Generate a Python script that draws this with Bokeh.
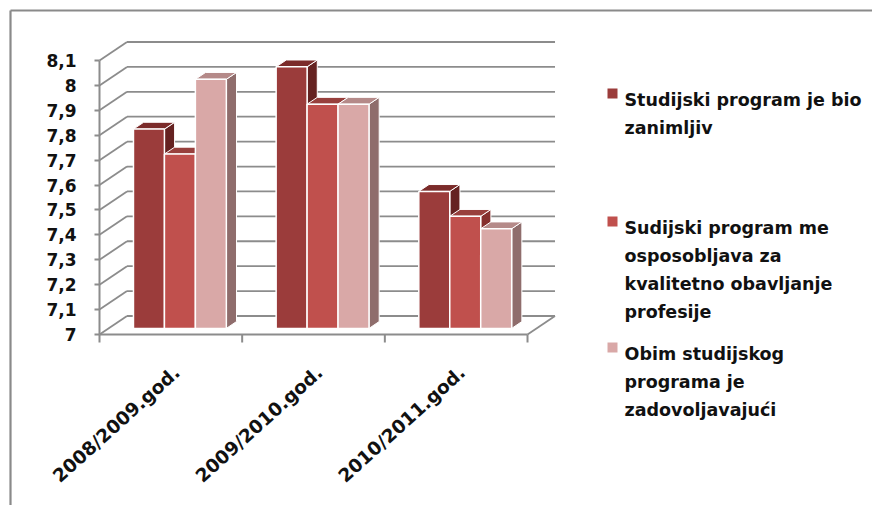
from bokeh.plotting import figure
from bokeh.models import FixedTicker, Range1d, Label
from bokeh.embed import file_html
from bokeh.resources import INLINE

# ---------------- data ----------------
categories = ["2008/2009.god.", "2009/2010.god.", "2010/2011.god."]
series_names = [
    "Studijski program je bio\nzanimljiv",
    "Sudijski program me\nosposobljava za\nkvalitetno obavljanje\nprofesije",
    "Obim studijskog\nprograma je\nzadovoljavajući",
]
s_zanimljiv = [7.8, 8.05, 7.55]
s_osposobljava = [7.7, 7.9, 7.45]
s_obim = [8.0, 7.9, 7.4]
series_values = [s_zanimljiv, s_osposobljava, s_obim]
y_ticks = [7.0, 7.1, 7.2, 7.3, 7.4, 7.5, 7.6, 7.7, 7.8, 7.9, 8.0, 8.1]
y_tick_labels = ["7", "7,1", "7,2", "7,3", "7,4", "7,5", "7,6", "7,7", "7,8", "7,9", "8", "8,1"]

# ---------------- styles / layout ----------------
front_col = ["#9B3C3B", "#C0504D", "#D9A8A7"]
top_col = ["#7B2B2A", "#98403D", "#B58A89"]
side_col = ["#652221", "#86302E", "#8F6D6C"]
GRAY = "#8c8c8c"
FONT = "DejaVu Sans"

W, H = 872, 505
AX_SX, BASE_SY = 99, 334          # front axis corner (value 7, category 0), canvas px
PX_X = 142.67                     # px per category unit
PX_Y = 249.1                      # px per value unit
base = y_ticks[0]

def sx2x(sx):
    return (sx - AX_SX) / PX_X

def sy2y(sy):
    return base + (BASE_SY - sy) / PX_Y

x_range = Range1d(sx2x(0), sx2x(W))
y_range = Range1d(sy2y(H), sy2y(0))

DX = 27.5 / PX_X                  # depth offset in data units
DY = 18.5 / PX_Y

p = figure(width=W, height=H, x_range=x_range, y_range=y_range,
           output_backend="svg", toolbar_location=None,
           min_border_left=0, min_border_bottom=0, min_border_top=0,
           min_border_right=0)
p.outline_line_color = None
p.grid.visible = False
p.background_fill_color = "white"
p.border_fill_color = "white"

# page frame lines (top and left)
p.segment(x0=[sx2x(10), sx2x(10)], y0=[sy2y(10), sy2y(10)],
          x1=[sx2x(W + 5), sx2x(10)], y1=[sy2y(10), sy2y(H + 5)],
          line_color="#8a8a8a", line_width=2.2)

# ---- walls / gridlines ----
n_cat = len(categories)
nt = len(y_ticks)
p.segment(x0=[DX] * nt, y0=[v + DY for v in y_ticks],
          x1=[n_cat + DX] * nt, y1=[v + DY for v in y_ticks],
          line_color=GRAY, line_width=1.8)
p.segment(x0=[0] * nt, y0=y_ticks, x1=[DX] * nt, y1=[v + DY for v in y_ticks],
          line_color=GRAY, line_width=1.8)
p.segment(x0=[n_cat], y0=[base], x1=[n_cat + DX], y1=[base + DY],
          line_color=GRAY, line_width=1.8)
# floor front edge with category-boundary ticks
p.segment(x0=[0], y0=[base], x1=[n_cat], y1=[base], line_color=GRAY, line_width=2)
tick_len = 8 / PX_Y
p.segment(x0=list(range(n_cat + 1)), y0=[base] * (n_cat + 1),
          x1=list(range(n_cat + 1)), y1=[base - tick_len] * (n_cat + 1),
          line_color=GRAY, line_width=2)

# ---- 3D bars ----
bw = 0.217
f = 0.33
d = 0.37
for i in range(n_cat):
    for j, vals in enumerate(series_values):
        v = vals[i]
        x0 = i + 0.5 - 1.5 * bw + j * bw
        x1 = x0 + bw
        fx, fy = f * DX, f * DY
        bx, by = (f + d) * DX, (f + d) * DY
        p.patch([x1 + fx, x1 + fx, x1 + bx, x1 + bx],
                [base + fy, v + fy, v + by, base + by],
                fill_color=side_col[j], line_color="white", line_width=1.0)
        p.patch([x0 + fx, x1 + fx, x1 + bx, x0 + bx],
                [v + fy, v + fy, v + by, v + by],
                fill_color=top_col[j], line_color="white", line_width=1.0)
        p.quad(left=[x0 + fx], right=[x1 + fx], bottom=[base + fy], top=[v + fy],
               fill_color=front_col[j], line_color="white", line_width=1.5)

# ---- axes (placed inside the frame) ----
ya = p.yaxis[0]
ya.fixed_location = 0
ya.ticker = FixedTicker(ticks=y_ticks)
ya.major_label_overrides = dict(zip(y_ticks, y_tick_labels))
ya.bounds = (y_ticks[0], y_ticks[-1])
ya.axis_line_color = GRAY
ya.axis_line_width = 2
ya.major_tick_line_color = GRAY
ya.major_tick_line_width = 2
ya.major_tick_in = 0
ya.major_tick_out = 5
ya.minor_tick_line_color = None
ya.major_label_text_font = FONT
ya.major_label_text_font_style = "bold"
ya.major_label_text_font_size = "17px"
ya.major_label_text_color = "#111111"
ya.major_label_standoff = 18

label_shift = 6 / PX_X
cat_pos = [i + 0.5 + label_shift for i in range(n_cat)]
xa = p.xaxis[0]
xa.fixed_location = base
xa.ticker = FixedTicker(ticks=cat_pos)
xa.major_label_overrides = dict(zip(cat_pos, categories))
xa.axis_line_color = None
xa.major_tick_line_color = None
xa.minor_tick_line_color = None
xa.major_label_orientation = 0.733
xa.major_label_text_font = FONT
xa.major_label_text_font_style = "bold"
xa.major_label_text_font_size = "18.5px"
xa.major_label_text_color = "#111111"
xa.major_label_standoff = 29

# ---- legend ----
item_baselines = [99, 227, 353]
line_gap = 28.3
for j, name in enumerate(series_names):
    b = item_baselines[j]
    p.scatter(x=[sx2x(612)], y=[sy2y(b - 6)], marker="square", size=10,
              fill_color=front_col[j], line_color=None)
    for k, line in enumerate(name.split("\n")):
        p.add_layout(Label(x=sx2x(624), y=sy2y(b + k * line_gap), text=line,
                           text_font=FONT, text_font_style="bold",
                           text_font_size="17.5px", text_baseline="alphabetic",
                           text_align="left", text_color="#111111"))

open("out.html", "w").write(file_html(p, INLINE))
